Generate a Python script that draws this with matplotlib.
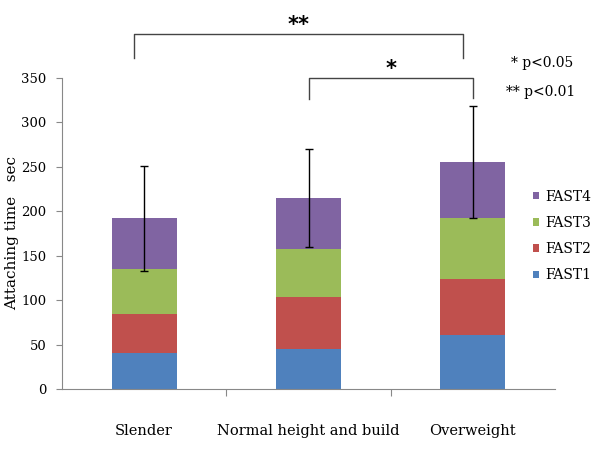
import numpy as np
import matplotlib.pyplot as plt

groups = ["Slender", "Normal height and build", "Overweight"]
series = ["FAST1", "FAST2", "FAST3", "FAST4"]
fast1 = [40, 45, 61]
fast2 = [44, 58, 63]
fast3 = [51, 55, 69]
fast4 = [57, 57, 63]
err = [59, 55, 63]
colors = ["#4f81bd", "#c0504d", "#9bbb59", "#8064a2"]

plt.rcParams['font.family'] = ['DejaVu Serif']

fig = plt.figure(figsize=(5.99, 4.53), dpi=100)
ax = fig.add_axes([62 / 599, 1 - 389 / 453, (555 - 62) / 599, (389 - 78) / 453])

x = np.arange(len(groups))
bottom = np.zeros(len(groups))
handles = []
for vals, c, name in zip([fast1, fast2, fast3, fast4], colors, series):
    b = ax.bar(x, vals, 0.395, bottom=bottom, color=c, label=name)
    handles.append(b)
    bottom += np.array(vals)

ax.errorbar(x, bottom, yerr=err, fmt="none", ecolor="black", elinewidth=1,
            capsize=3, capthick=1)

ax.set_xlim(-0.5, 2.5)
ax.set_ylim(0, 350)
ax.set_yticks(range(0, 351, 50))
ax.set_xticks([0.5, 1.5])
ax.set_xticklabels([])
ax.tick_params(axis="x", length=5, color="#888888", direction="out")
ax.tick_params(axis="y", length=4, color="#888888", labelsize=9.5, pad=7)
for i, g in enumerate(groups):
    ax.text(i, -47, g, ha="center", va="center", fontsize=10.5)
for s in ["top", "right"]:
    ax.spines[s].set_visible(False)
for s in ["left", "bottom"]:
    ax.spines[s].set_color("#888888")
ax.set_ylabel("Attaching time   sec", fontsize=11)
ax.yaxis.set_label_coords(-0.087, 0.5)

leg = ax.legend(handles[::-1], series[::-1], loc="center left",
                bbox_to_anchor=(0.955, 0.492), frameon=False, fontsize=10,
                handlelength=0.45, handleheight=0.45, labelspacing=0.88,
                handletextpad=0.43, borderpad=0, borderaxespad=0)

# significance brackets
def bracket(x1, x2, y, yl, yr, label):
    ax.plot([x1, x1, x2, x2], [yl, y, y, yr], color="#444444", lw=1,
            clip_on=False)
    ax.text((x1 + x2) / 2, y - 1, label, ha="center", va="bottom",
            fontsize=15, fontweight="bold", family="DejaVu Sans",
            clip_on=False)

bracket(-0.06, 1.94, 399, 372, 372, "**")
bracket(1.005, 2.0, 350, 326, 328, "*")

ax.text(2.23, 367, "* p<0.05", ha="left", va="center", fontsize=10,
        clip_on=False)
ax.text(2.2, 334, "** p<0.01", ha="left", va="center", fontsize=10,
        clip_on=False)

fig.savefig("out.png", dpi=100)
